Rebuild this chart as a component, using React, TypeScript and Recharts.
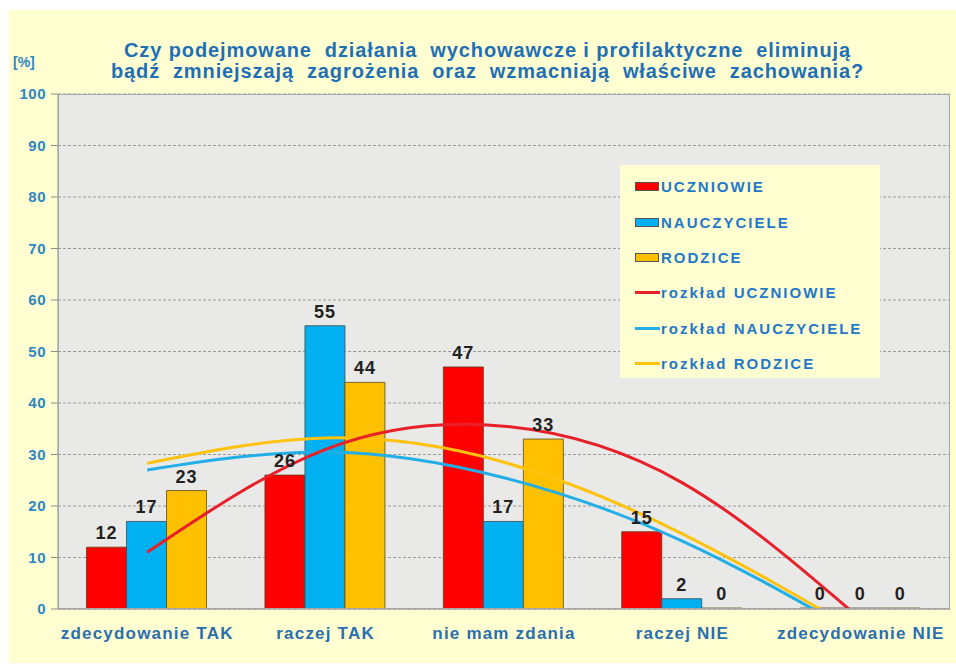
import { ComposedChart, Bar, Line, XAxis, YAxis, CartesianGrid, LabelList } from 'recharts';

const categories = ['zdecydowanie TAK', 'raczej TAK', 'nie mam zdania', 'raczej NIE', 'zdecydowanie NIE'];

const uczniowie = [12, 26, 47, 15, 0];
const nauczyciele = [17, 55, 17, 2, 0];
const rodzice = [23, 44, 33, 0, 0];

// trend curves at each category
const rozkladUczniowie = [11, 31, 35.5, 24.5, -2];
const rozkladNauczyciele = [27, 30.5, 25.5, 13.2, -5.3];
const rozkladRodzice = [28.3, 33.2, 28.5, 14.6, -4.6];

const yTicks = [0, 10, 20, 30, 40, 50, 60, 70, 80, 90, 100];

const data = categories.map((name, i) => ({
  name,
  u: uczniowie[i],
  n: nauczyciele[i],
  r: rodzice[i],
  ru: rozkladUczniowie[i],
  rn: rozkladNauczyciele[i],
  rr: rozkladRodzice[i],
}));

const RED = '#FF0000';
const BLUE = '#00B0F0';
const YELLOW = '#FFC000';
const TITLE = '#1F6FB5';
const TICK = '#2E86C4';

const legendItems = [
  { label: 'UCZNIOWIE', color: RED, kind: 'bar' },
  { label: 'NAUCZYCIELE', color: BLUE, kind: 'bar' },
  { label: 'RODZICE', color: YELLOW, kind: 'bar' },
  { label: 'rozkład UCZNIOWIE', color: '#E8202A', kind: 'line' },
  { label: 'rozkład NAUCZYCIELE', color: '#22AEE6', kind: 'line' },
  { label: 'rozkład RODZICE', color: '#FFC20E', kind: 'line' },
];

const labelStyle = { fill: '#222', fontSize: 18, fontWeight: 'bold', letterSpacing: 1 };

export default function App() {
  return (
    <div
      style={{
        position: 'absolute',
        left: 9,
        top: 10,
        width: 947,
        height: 653,
        background: '#FFFFD2',
        fontFamily: '"Liberation Sans", Arial, sans-serif',
      }}
    >
      <div
        style={{
          position: 'absolute',
          left: 0,
          right: 0,
          top: 30,
          textAlign: 'center',
          color: TITLE,
          fontWeight: 'bold',
          fontSize: 20,
          letterSpacing: 0.9,
          lineHeight: '21px',
          whiteSpace: 'pre',
          paddingLeft: 10,
        }}
      >
        {'Czy podejmowane  działania  wychowawcze i profilaktyczne  eliminują\nbądź  zmniejszają  zagrożenia  oraz  wzmacniają  właściwe  zachowania?'}
      </div>
      <div style={{ position: 'absolute', left: 4, top: 44, color: TICK, fontWeight: 'bold', fontSize: 14 }}>[%]</div>

      <ComposedChart
        width={947}
        height={653}
        data={data}
        margin={{ top: 84, right: 6, left: 9, bottom: 24 }}
        barGap={0}
        barCategoryGap="16%"
        style={{ fontFamily: '"Liberation Sans", Arial, sans-serif' }}
      >
        <CartesianGrid vertical={false} fill="#E9E9E7" stroke="#9A9A9A" strokeDasharray="3 2" />
        <XAxis
          dataKey="name"
          height={30}
          tickLine={false}
          tickMargin={12}
          axisLine={{ stroke: '#8C8C8C' }}
          tick={{ fill: '#2A6FAE', fontSize: 17, fontWeight: 'bold', letterSpacing: 1.2 }}
        />
        <YAxis
          width={40}
          domain={[0, 100]}
          ticks={yTicks}
          allowDataOverflow
          tickSize={7}
          tickLine={{ stroke: '#8C8C8C' }}
          axisLine={{ stroke: '#8C8C8C' }}
          tick={{ fill: TICK, fontSize: 15, fontWeight: 'bold', letterSpacing: 0.5, dx: -3 }}
        />
        <Bar dataKey="u" name="UCZNIOWIE" fill={RED} stroke="#5A3A1A" strokeWidth={0.8} minPointSize={1} isAnimationActive={false}>
          <LabelList dataKey="u" position="top" offset={8} style={labelStyle} />
        </Bar>
        <Bar dataKey="n" name="NAUCZYCIELE" fill={BLUE} stroke="#3A4A55" strokeWidth={0.8} minPointSize={1} isAnimationActive={false}>
          <LabelList dataKey="n" position="top" offset={8} style={labelStyle} />
        </Bar>
        <Bar dataKey="r" name="RODZICE" fill={YELLOW} stroke="#5A4A1A" strokeWidth={0.8} minPointSize={1} isAnimationActive={false}>
          <LabelList dataKey="r" position="top" offset={8} style={labelStyle} />
        </Bar>
        <Line type="natural" dataKey="rr" name="rozkład RODZICE" stroke="#FFC20E" strokeWidth={3} dot={false} isAnimationActive={false} />
        <Line type="natural" dataKey="rn" name="rozkład NAUCZYCIELE" stroke="#22AEE6" strokeWidth={3} dot={false} isAnimationActive={false} />
        <Line type="natural" dataKey="ru" name="rozkład UCZNIOWIE" stroke="#E8202A" strokeWidth={3} dot={false} isAnimationActive={false} />
      </ComposedChart>

      <div
        style={{
          position: 'absolute',
          left: 49,
          top: 84,
          width: 892,
          height: 515,
          border: '1px solid #A5A5A5',
          boxSizing: 'border-box',
          pointerEvents: 'none',
        }}
      />

      <div
        style={{
          position: 'absolute',
          left: 611,
          top: 155,
          width: 260,
          height: 213,
          background: '#FFFFD2',
          paddingTop: 4,
          boxSizing: 'border-box',
        }}
      >
        {legendItems.map((it) => (
          <div key={it.label} style={{ display: 'flex', alignItems: 'center', height: 35.4, paddingLeft: 15 }}>
            {it.kind === 'bar' ? (
              <span style={{ width: 22, height: 7, background: it.color, border: '1px solid #555', marginRight: 2 }} />
            ) : (
              <span style={{ width: 25, height: 3, background: it.color, marginRight: 1 }} />
            )}
            <span style={{ color: '#1F78C8', fontWeight: 'bold', fontSize: 15, letterSpacing: 2 }}>{it.label}</span>
          </div>
        ))}
      </div>
    </div>
  );
}
